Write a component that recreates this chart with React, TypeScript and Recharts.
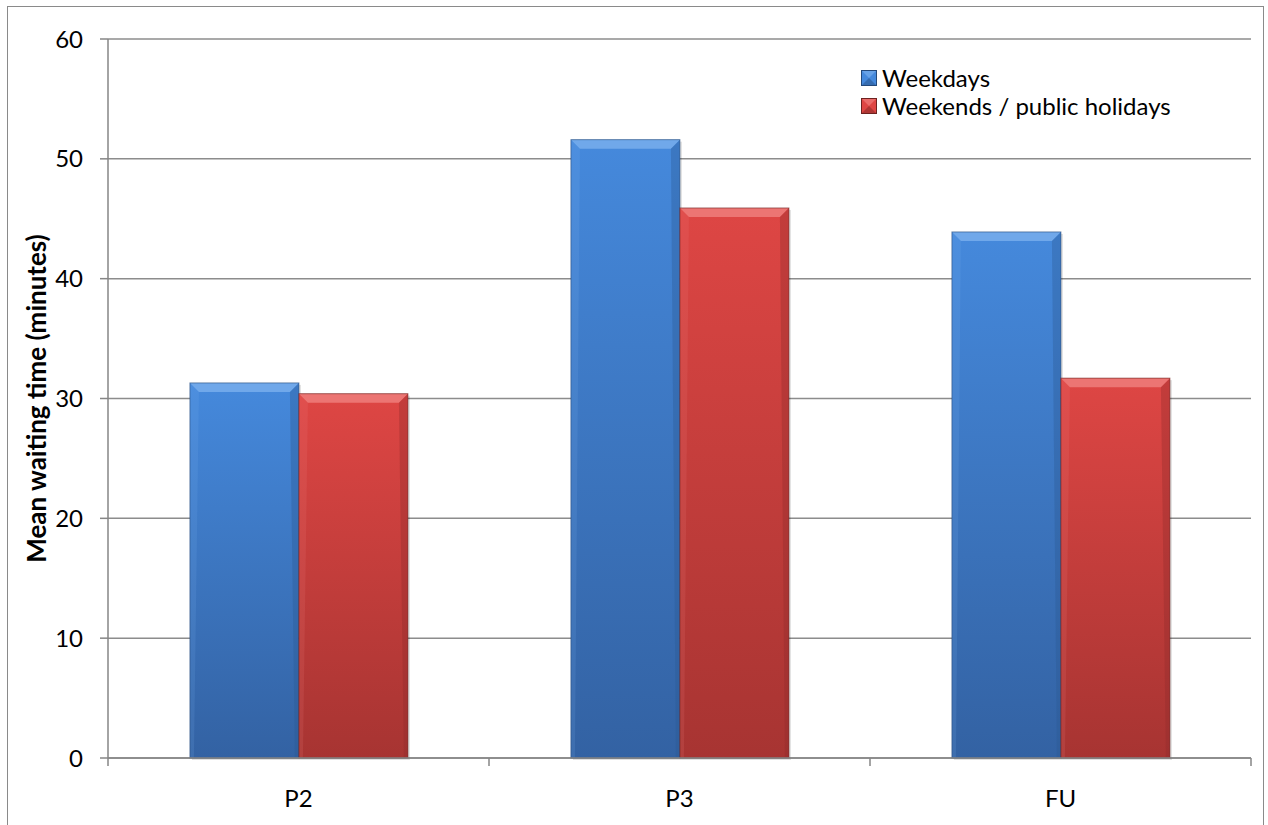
import { BarChart, Bar, XAxis, YAxis, CartesianGrid } from 'recharts';

const categories = ['P2', 'P3', 'FU'];
const weekdays = [31.3, 51.6, 43.9];
const weekends = [30.4, 45.9, 31.7];
const yTicks = [0, 10, 20, 30, 40, 50, 60];
const seriesNames = ['Weekdays', 'Weekends / public holidays'];

const data = categories.map((name, i) => ({
  name,
  weekdays: weekdays[i],
  weekends: weekends[i],
}));

const FONT = 'Lato, "Open Sans", sans-serif';

const THEMES: Record<string, { top: string; bottom: string; light: string; dark: string; edge: string }> = {
  blue: { top: '#4589dc', bottom: '#3362a3', light: '#7fb3ef', dark: '#2c5893', edge: '#24497a' },
  red: { top: '#de4644', bottom: '#a73432', light: '#f08583', dark: '#8e2c2a', edge: '#6e2220' },
};

// bar with a bevelled top edge and a vertical shading
function BevelBar(props: any) {
  const { x, y, width, height, theme } = props;
  if (!height || height <= 0) return null;
  const t = THEMES[theme];
  const b = 9;
  return (
    <g>
      <rect x={x + 2} y={y + 2} width={width} height={height} fill="rgba(0,0,0,0.12)" />
      <rect x={x} y={y} width={width} height={height} fill={`url(#grad-${theme})`} />
      <polygon
        points={`${x},${y} ${x + width},${y} ${x + width - b},${y + b} ${x + b},${y + b}`}
        fill={t.light}
        opacity={0.75}
      />
      <polygon
        points={`${x + width},${y} ${x + width},${y + height} ${x + width - 4},${y + height} ${x + width - b},${y + b}`}
        fill={t.dark}
        opacity={0.35}
      />
      <polygon
        points={`${x},${y} ${x + b},${y + b} ${x + 4},${y + height} ${x},${y + height}`}
        fill={t.light}
        opacity={0.15}
      />
      <rect x={x} y={y} width={width} height={height} fill="none" stroke={t.edge} strokeOpacity={0.6} strokeWidth={1} />
    </g>
  );
}

// category label plus tick marks on the band edges
function CategoryTick(props: any) {
  const { x, y, payload, index, width, visibleTicksCount } = props;
  const band = width / visibleTicksCount;
  const axisY = y - 8;
  const last = index === visibleTicksCount - 1;
  return (
    <g>
      <line x1={x - band / 2} y1={axisY} x2={x - band / 2} y2={axisY + 8} stroke="#868686" strokeWidth={1.5} />
      {last && (
        <line x1={x + band / 2} y1={axisY} x2={x + band / 2} y2={axisY + 8} stroke="#868686" strokeWidth={1.5} />
      )}
      <text x={x} y={axisY + 49} textAnchor="middle" fontSize={24} fontFamily={FONT} fill="#000">
        {payload.value}
      </text>
    </g>
  );
}

function LegendBox() {
  const themes = ['blue', 'red'];
  return (
    <div
      style={{
        position: 'absolute',
        left: 853,
        top: 57,
        fontFamily: FONT,
        fontSize: 24,
        color: '#000',
        lineHeight: 1,
      }}
    >
      {seriesNames.map((label, i) => {
        const t = THEMES[themes[i]];
        return (
          <div key={label} style={{ display: 'flex', alignItems: 'center', height: 28 }}>
            <svg width={16} height={16} style={{ marginRight: 5 }}>
              <rect x={0.5} y={0.5} width={15} height={15} fill={t.top} stroke={t.edge} strokeWidth={1} />
              <polygon points="1,1 15,1 8,8" fill={t.light} opacity={0.6} />
              <polygon points="1,15 15,15 8,8" fill={t.dark} opacity={0.6} />
            </svg>
            <span>{label}</span>
          </div>
        );
      })}
    </div>
  );
}

export default function App() {
  return (
    <div
      style={{
        position: 'absolute',
        left: 7,
        top: 6,
        width: 1255,
        height: 840,
        border: '1.5px solid #8a8a8a',
        background: '#fff',
      }}
    >
      <BarChart
        width={1255}
        height={819}
        data={data}
        margin={{ top: 32, right: 12, left: 0, bottom: 38 }}
        barGap={0}
        barCategoryGap="21.5%"
      >
        <defs>
          {Object.entries(THEMES).map(([k, t]) => (
            <linearGradient key={k} id={`grad-${k}`} x1="0" y1="0" x2="0" y2="1">
              <stop offset="0%" stopColor={t.top} />
              <stop offset="100%" stopColor={t.bottom} />
            </linearGradient>
          ))}
        </defs>
        <CartesianGrid vertical={false} stroke="#8c8c8c" strokeWidth={1.5} />
        <XAxis
          dataKey="name"
          height={30}
          axisLine={{ stroke: '#868686', strokeWidth: 1.5 }}
          tickLine={false}
          tick={<CategoryTick />}
          interval={0}
        />
        <YAxis
          width={100}
          domain={[0, 60]}
          ticks={yTicks}
          axisLine={{ stroke: '#868686', strokeWidth: 1.5 }}
          tickLine={{ stroke: '#868686', strokeWidth: 1.5 }}
          tickSize={8}
          tickMargin={17}
          tick={{ fontSize: 24, fontFamily: FONT, fill: '#000' }}
          label={{
            value: 'Mean waiting time (minutes)',
            angle: -90,
            position: 'insideLeft',
            offset: 29,
            style: { textAnchor: 'middle', fontSize: 26, fontWeight: 700, fontFamily: FONT, fill: '#000' },
          }}
        />
        <Bar dataKey="weekdays" name={seriesNames[0]} fill="#3f80d4" isAnimationActive={false} shape={<BevelBar theme="blue" />} />
        <Bar dataKey="weekends" name={seriesNames[1]} fill="#d8403e" isAnimationActive={false} shape={<BevelBar theme="red" />} />
      </BarChart>
      <LegendBox />
    </div>
  );
}
